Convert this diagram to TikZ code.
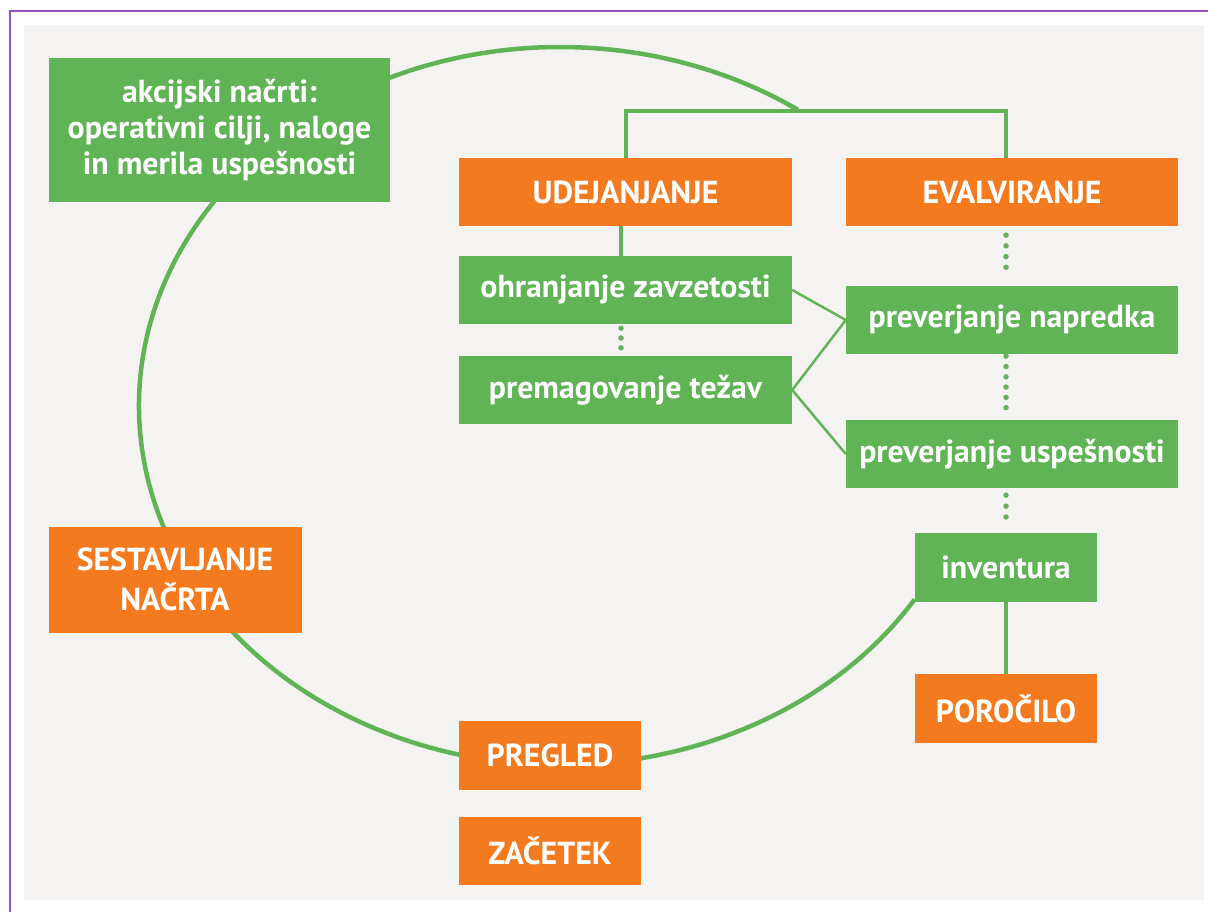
\documentclass[tikz,border=0pt]{standalone}
\usepackage{fontspec}
\setmainfont{PT Sans}
\usetikzlibrary{calc}
\definecolor{leaf}{HTML}{61B456}
\definecolor{rust}{HTML}{F47A20}
\definecolor{paper}{HTML}{F4F3F1}
\definecolor{frame}{HTML}{9A50B8}
\tikzset{
  box/.style={rectangle, inner sep=0pt, text=white, align=center,
    font=\fontsize{31.8}{36}\selectfont\bfseries},
  gbox/.style={box, fill=leaf},
  obox/.style={box, fill=rust},
  trunk/.style={draw=leaf, line width=4.5pt},
  twig/.style={draw=leaf, line width=2.5pt},
  dotline/.style={draw=leaf, line width=5.5pt, line cap=round, dash pattern=on 0pt off #1pt},
}
\begin{document}
\begin{tikzpicture}[x=1pt, y=-1pt]
\useasboundingbox (0,0) rectangle (1208,912);
% page frame and panel
\fill[white] (0,0) rectangle (1208,912);
\draw[frame, line width=2pt] (10,912) -- (10,11) -- (1208,11);
\fill[paper] (24,25) rectangle (1204,900);

% planning cycle
\coordinate (cyc) at (560,406);
\draw[leaf, line width=4.5pt] (cyc) ++(32.6:421 and 359)
  arc[start angle=32.6, end angle=304.4, x radius=421, y radius=359];

% boxes
\node[gbox, minimum width=341, minimum height=144] (akc) at (219.5,130)
  {akcijski načrti:\\operativni cilji, naloge\\in merila uspešnosti};
\node[obox, minimum width=333, minimum height=68] (udej) at (625.5,192) {UDEJANJANJE};
\node[obox, minimum width=332, minimum height=68] (eval) at (1012,192) {EVALVIRANJE};
\node[gbox, minimum width=333, minimum height=68] (ohran) at (625.5,290) {ohranjanje zavzetosti};
\node[gbox, minimum width=333, minimum height=68] (premag) at (625.5,390) {premagovanje težav};
\node[gbox, minimum width=332, minimum height=68] (napr) at (1012,320) {preverjanje napredka};
\node[gbox, minimum width=332, minimum height=68] (uspes) at (1012,454) {preverjanje uspešnosti};
\node[gbox, minimum width=182, minimum height=69] (inv) at (1006,567.5) {inventura};
\node[obox, minimum width=182, minimum height=69] (poro) at (1006,708.5) {POROČILO};
\node[obox, minimum width=253, minimum height=106, font=\fontsize{31.8}{40}\selectfont\bfseries]
  (sest) at (175,579.5) {SESTAVLJANJE\\NAČRTA};
\node[obox, minimum width=182, minimum height=69] (pregl) at (550,755.5) {PREGLED};
\node[obox, minimum width=182, minimum height=68] (zac) at (550,851) {ZAČETEK};

% branch over implementation and evaluation
\coordinate (tl) at (626,111);
\coordinate (tr) at (1006,111);
\draw[trunk] (udej.north -| tl) -- (tl) -- (tr) -- (eval.north -| tr);
\draw[trunk] ([xshift=-4.5pt]udej.south) -- ([xshift=-4.5pt]ohran.north);
\draw[trunk] (inv.south) -- (poro.north);

% dotted links
\draw[dotline=9.8, shorten <=4pt, shorten >=8pt] ([xshift=-4.5pt]ohran.south) -- ([xshift=-4.5pt]premag.north);
\draw[dotline=10.7, shorten <=9pt, shorten >=8pt] ([xshift=-6pt]eval.south) -- ([xshift=-6pt]napr.north);
\draw[dotline=10.3, shorten <=2pt, shorten >=2pt] ([xshift=-6pt]napr.south) -- ([xshift=-6pt]uspes.north);
\draw[dotline=10.9, shorten <=7pt, shorten >=5pt] ([xshift=-6pt]uspes.south) -- (inv.north);

% links between the two columns
\draw[twig] (ohran.east) -- (napr.west);
\draw[twig] (premag.east) -- (napr.west);
\draw[twig] (premag.east) -- (uspes.west);
\end{tikzpicture}
\end{document}
